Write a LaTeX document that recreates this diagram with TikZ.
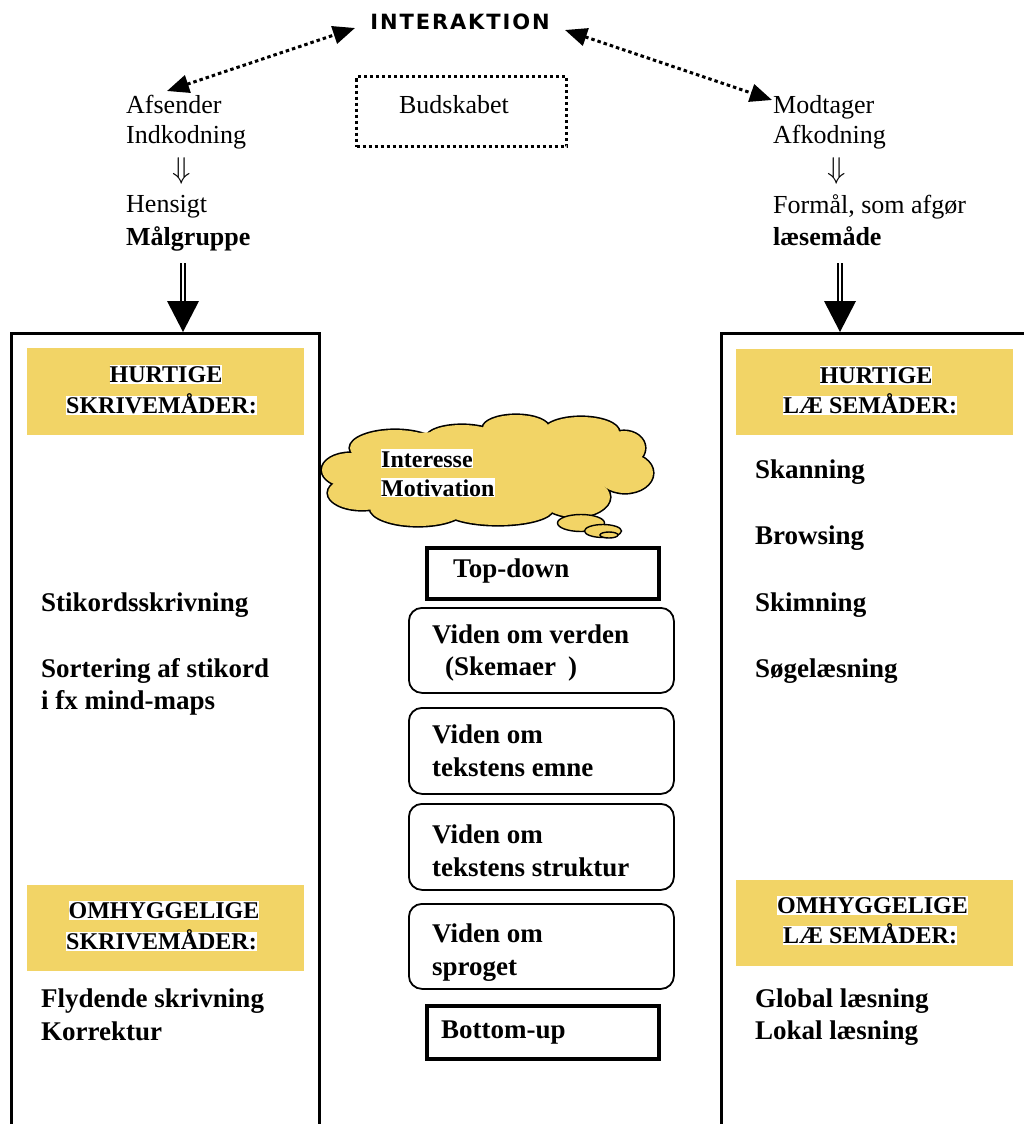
\documentclass[tikz,border=0pt]{standalone}
\usepackage{fontspec}
\setmainfont{Liberation Serif}
\newfontfamily\headsans[LetterSpace=9]{DejaVu Sans}
\usetikzlibrary{arrows.meta,shapes.geometric}
\definecolor{gold}{RGB}{242,212,102}

\begin{document}
\begin{tikzpicture}[x=1pt,y=-1pt,
  plain/.style={anchor=base west, inner sep=0pt, font=\fontsize{26}{30}\selectfont},
  plainbold/.style={anchor=base west, inner sep=0pt, font=\bfseries\fontsize{26}{30}\selectfont},
  boldtxt/.style={anchor=base west, inner sep=0pt, font=\bfseries\fontsize{27}{33}\selectfont},
  downsign/.style={inner sep=0pt, font=\fontsize{20}{20}\selectfont},
  head/.style={anchor=base, inner sep=0pt, fill=white, text height=17pt, text depth=1.5pt,
    font=\bfseries\fontsize{24}{28}\selectfont},
  cloudtxt/.style={anchor=base west, inner sep=0pt, fill=white, text height=18pt, text depth=0.5pt,
    font=\bfseries\fontsize{24}{29}\selectfont},
  goldbar/.style={fill=gold, anchor=north west, minimum width=277pt, inner sep=0pt},
  column/.style={draw, line width=3pt, anchor=north west, inner sep=0pt},
  know/.style={draw, line width=1.8pt, rounded corners=13pt, anchor=north west,
    minimum width=265pt, inner sep=0pt},
  endbox/.style={draw, line width=3.5pt, anchor=north west, minimum width=232pt, inner sep=0pt},
  dotlink/.style={line width=3pt, dash pattern=on 3.5pt off 3pt,
    {Triangle[length=22pt,width=18pt]}-{Triangle[length=22pt,width=18pt]}},
  shaft/.style={line width=1.6pt, double distance=2pt},
  bubble/.style={ellipse, draw, fill=gold, line width=1.4pt, inner sep=0pt},
]
\useasboundingbox (0,0) rectangle (1024,1124);

% --- title and message ---
\node[anchor=base, inner sep=0pt, font=\headsans\bfseries\fontsize{21}{24}\selectfont] (inter) at (460,30) {INTERAKTION};
\node[draw, line width=3pt, dash pattern=on 3pt off 3pt, anchor=north west,
      minimum width=210pt, minimum height=70pt, inner sep=0pt] (msgbox) at (355,75) {};
\node[anchor=base, inner sep=0pt, font=\fontsize{26}{30}\selectfont] (msg) at (454,113) {Budskabet};

% --- sender side ---
\node[plain] (afs) at (126,113) {Afsender};
\node[plain] (indk) at (126,143) {Indkodning};
\node[downsign] (ldown) at (182,171) {\scalebox{1.45}{$\Downarrow$}};
\node[plain] (hens) at (126,212) {Hensigt};
\node[plainbold] (malg) at (126,245) {Målgruppe};

% --- receiver side ---
\node[plain] (modt) at (773,113) {Modtager};
\node[plain] (afk) at (773,143) {Afkodning};
\node[downsign] (rdown) at (837,171) {\scalebox{1.45}{$\Downarrow$}};
\node[plain] (form) at (773,213) {Formål, som afgør};
\node[plainbold] (laes) at (773,245) {læsemåde};

% --- interaction arrows ---
\coordinate (sendtip) at (167,91);
\coordinate (interL) at (355,28);
\coordinate (interR) at (565,30);
\coordinate (recvtip) at (772,100);
\draw[dotlink] (sendtip) -- (interL);
\draw[dotlink] (interR) -- (recvtip);

% --- the two columns ---
\node[column, minimum width=308pt, minimum height=830pt] (leftcol) at (10,332) {};
\node[column, minimum width=330pt, minimum height=830pt] (rightcol) at (720,332) {};

% --- double arrows into the columns ---
\coordinate (ltail) at (183,263);
\coordinate (rtail) at (840,263);
\draw[shaft] (ltail) -- ++(0,38);
\fill (ltail |- leftcol.north) -- ++(-16,-31) -- ++(32,0) -- cycle;
\draw[shaft] (rtail) -- ++(0,38);
\fill (rtail |- rightcol.north) -- ++(-16,-31) -- ++(32,0) -- cycle;

% --- writing column ---
\node[goldbar, minimum height=87pt] (wfast) at (27,348) {};
\node[head] (wfast1) at (166,382) {HURTIGE};
\node[head] (wfast2) at (161.5,413) {SKRIVEMÅDER:};
\node[boldtxt] (w1) at (41,611) {Stikordsskrivning};
\node[boldtxt] (w2) at (41,677) {Sortering af stikord};
\node[boldtxt] (w3) at (41,709) {i fx mind-maps};
\node[goldbar, minimum height=86pt] (wcare) at (27,885) {};
\node[head] (wcare1) at (164,918) {OMHYGGELIGE};
\node[head] (wcare2) at (161.5,949) {SKRIVEMÅDER:};
\node[boldtxt] (w4) at (41,1007) {Flydende skrivning};
\node[boldtxt] (w5) at (41,1040) {Korrektur};

% --- reading column ---
\node[goldbar, minimum height=86pt] (rfast) at (736,349) {};
\node[head] (rfast1) at (876,383) {HURTIGE};
\node[head] (rfast2) at (870,413) {LÆ SEMÅDER:};
\node[boldtxt] (r1) at (755,478) {Skanning};
\node[boldtxt] (r2) at (755,544) {Browsing};
\node[boldtxt] (r3) at (755,611) {Skimning};
\node[boldtxt] (r4) at (755,677) {Søgelæsning};
\node[goldbar, minimum height=86pt] (rcare) at (736,880) {};
\node[head] (rcare1) at (872.5,913) {OMHYGGELIGE};
\node[head] (rcare2) at (870,943) {LÆ SEMÅDER:};
\node[boldtxt] (r5) at (755,1007) {Global læsning};
\node[boldtxt] (r6) at (755,1039) {Lokal læsning};

% --- thought cloud: union of puffs, outlined then filled over ---
\def\puffs{350/470/28/17, 362/493/34/17, 418/508/48/18, 498/509/55/16,
  575/497/35/20, 625/473/28/20, 624/448/21/17, 581/432/38/15,
  516/428/33/13, 462/437/35/12, 395/448/45/18}
\foreach \cx/\cy/\rx/\ry in \puffs
  \draw[line width=3.2pt] (\cx,\cy) ellipse [x radius=\rx, y radius=\ry];
\foreach \cx/\cy/\rx/\ry in \puffs
  \fill[gold] (\cx,\cy) ellipse [x radius=\rx, y radius=\ry];
\fill[gold] (487,470) ellipse [x radius=130, y radius=38];
\fill[gold] (560,452) ellipse [x radius=55, y radius=20];
\fill[gold] (610,465) ellipse [x radius=22, y radius=18];
\fill[gold] (440,448) ellipse [x radius=60, y radius=16];
\node[bubble, minimum width=47pt, minimum height=17pt] (b1) at (581,523) {};
\node[bubble, minimum width=37pt, minimum height=13pt] (b2) at (603,531) {};
\node[bubble, minimum width=18pt, minimum height=6pt] (b3) at (609,535) {};
\node[cloudtxt] (c1) at (381,467) {Interesse};
\node[cloudtxt] (c2) at (381,496) {Motivation};

% --- knowledge stack ---
\node[endbox, minimum height=51pt] (topdown) at (425,546) {};
\node[boldtxt] (td) at (453,577) {Top-down};
\node[know, minimum height=85pt] (k1) at (408,607) {};
\node[boldtxt] (k1a) at (432,643) {Viden om verden};
\node[boldtxt] (k1b) at (445,675) {(Skemaer\hspace{12pt})};
\node[know, minimum height=86pt] (k2) at (408,707) {};
\node[boldtxt] (k2a) at (432,743) {Viden om};
\node[boldtxt] (k2b) at (432,776) {tekstens emne};
\node[know, minimum height=86pt] (k3) at (408,803) {};
\node[boldtxt] (k3a) at (432,843) {Viden om};
\node[boldtxt] (k3b) at (432,876) {tekstens struktur};
\node[know, minimum height=85pt] (k4) at (408,903) {};
\node[boldtxt] (k4a) at (432,942) {Viden om};
\node[boldtxt] (k4b) at (432,975) {sproget};
\node[endbox, minimum height=53pt] (bottomup) at (425,1004) {};
\node[boldtxt] (bu) at (441,1038) {Bottom-up};
\end{tikzpicture}
\end{document}
